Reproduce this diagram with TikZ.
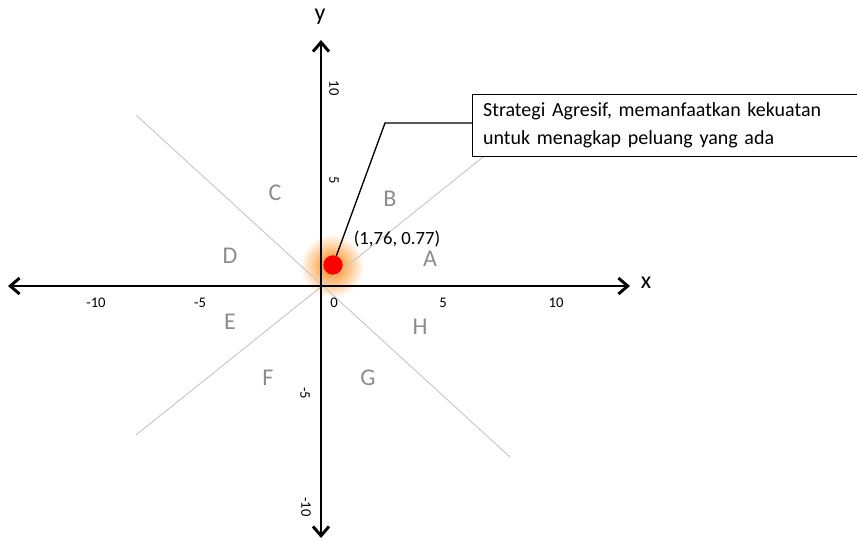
\documentclass[tikz,border=0pt]{standalone}
\usepackage{fontspec}
\setmainfont{Carlito}
\usetikzlibrary{arrows.meta}

\begin{document}
\begin{tikzpicture}[x=0.75pt, y=-0.75pt,
    axis/.style={line width=2.2pt, {Straight Barb[length=7pt,width=12pt]}-{Straight Barb[length=7pt,width=12pt]}},
    guide/.style={draw=black!22, line width=0.7pt},
    region/.style={text=black!45, font=\fontsize{18}{20}\selectfont},
    tick/.style={font=\fontsize{11}{13}\selectfont},
    ytick/.style={tick, rotate=-90},
    axlabel/.style={font=\fontsize{18}{20}\selectfont},
    note/.style={draw, fill=white, line width=0.7pt, anchor=west,
        text width=290pt, inner xsep=8pt, minimum height=46.5pt,
        align=left, font=\fontsize{15}{21}\selectfont}
]
\useasboundingbox (0,0) rectangle (857,540);
\clip (0,0) rectangle (857,540);

% glow behind the point
\shade[inner color=orange, outer color=white] (332,266) circle (32);

% region dividers
\draw[guide] (136,115) -- (510,457);
\draw[guide] (136,435) -- (508,137);

% axes
\coordinate (xl) at (8,286);
\coordinate (xr) at (630,286);
\coordinate (yb) at (321,538);
\coordinate (yt) at (321,40);
\draw[axis] (xl) -- (xr);
\draw[axis] (yb) -- (yt);
\node[axlabel] (xlab) at (646,283) {x};
\node[axlabel] (ylab) at (320,17) {y};

% ticks on x
\node[tick] (xm10) at (96,303) {-10};
\node[tick] (xm5)  at (200,303) {-5};
\node[tick] (x0)   at (334,303) {0};
\node[tick] (x5)   at (443,303) {5};
\node[tick] (x10)  at (556,303) {10};

% ticks on y
\node[ytick] (y10)  at (334,88) {10};
\node[ytick] (y5)   at (334,180) {5};
\node[ytick] (ym5)  at (305,393) {-5};
\node[ytick] (ym10) at (306,507) {-10};

% regions
\node[region] (ra) at (430,259) {A};
\node[region] (rb) at (390,199) {B};
\node[region] (rc) at (275,193) {C};
\node[region] (rd) at (230,256) {D};
\node[region] (re) at (230,322) {E};
\node[region] (rf) at (268,378) {F};
\node[region] (rg) at (368,378) {G};
\node[region] (rh) at (420,327) {H};

% the point and its note
\node[circle, fill=red, minimum size=14.5pt, inner sep=0pt] (pt) at (333,265) {};
\node[font=\fontsize{14}{16}\selectfont, inner sep=1pt] (ptlabel) at (397,239) {(1,76, 0.77)};
\coordinate (knee) at (385,123);
\node[note] (note) at (472,125) {Strategi Agresif, memanfaatkan kekuatan\\untuk menagkap peluang yang ada};
\draw[line width=1pt] (pt) -- (knee) -- (note.west |- knee);

\end{tikzpicture}
\end{document}
